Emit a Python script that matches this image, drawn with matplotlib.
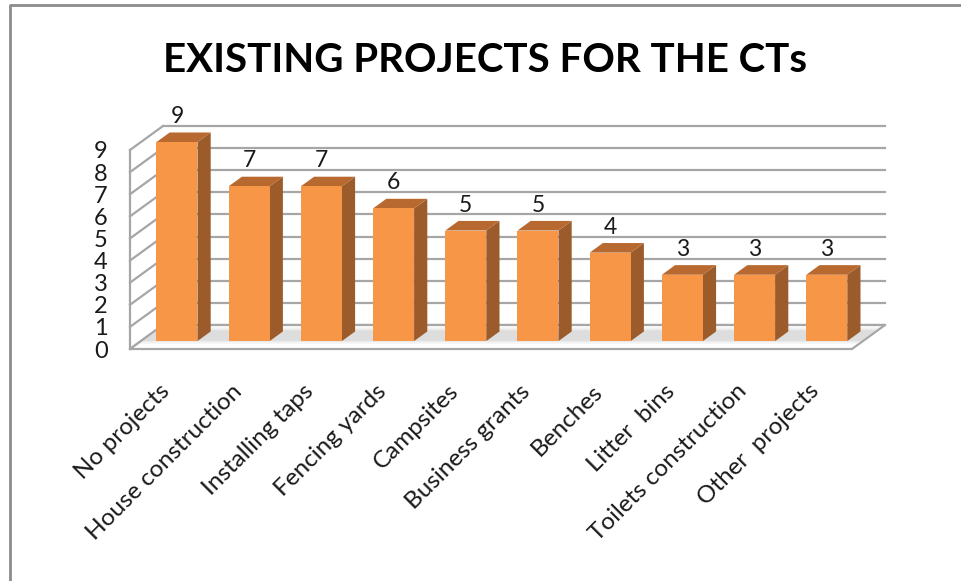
import matplotlib
matplotlib.use("Agg")
import matplotlib.pyplot as plt
from matplotlib.patches import Polygon
from matplotlib.lines import Line2D
from matplotlib.transforms import IdentityTransform
import numpy as np

categories = ["No projects", "House construction", "Installing taps", "Fencing yards",
              "Campsites", "Business grants", "Benches", "Litter  bins",
              "Toilets construction", "Other  projects"]
values = [9, 7, 7, 6, 5, 5, 4, 3, 3, 3]
y_ticks = list(range(0, 10))
title = "EXISTING PROJECTS FOR THE CTs"

FONT = ["Lato", "DejaVu Sans"]
plt.rcParams["font.family"] = FONT

W, H = 961, 581
fig = plt.figure(figsize=(W / 100, H / 100), dpi=100)
fig.patch.set_facecolor("white")

# front plane of the 3-D box, in pixels from the top-left corner
X0, Y0, PW, PH = 130, 349, 722, 199
ax = fig.add_axes([X0 / W, 1 - Y0 / H, PW / W, PH / H])
ax.set_xlim(0, len(categories))
ax.set_ylim(0, max(y_ticks))
ax.patch.set_visible(False)
for s in ax.spines.values():
    s.set_visible(False)

# oblique depth: full depth shifts right and up by these pixels
DX, DY = 33, 24


def proj(x, v, z):
    px, py = ax.transData.transform((x, v))
    return (px + z * DX, py + z * DY)


GRID = "#a6a6a6"
ident = IdentityTransform()


def seg(p, q, **kw):
    ax.add_line(Line2D([p[0], q[0]], [p[1], q[1]], transform=ident,
                       clip_on=False, **kw))


n = len(categories)
top = max(y_ticks)

# gridlines on the back wall and the left side wall
for t in y_ticks:
    seg(proj(0, t, 1), proj(n, t, 1), color=GRID, lw=1.6, zorder=1)
    seg(proj(0, t, 0), proj(0, t, 1), color=GRID, lw=1.6, zorder=1)
seg(proj(0, 0, 0), proj(0, top, 0), color=GRID, lw=1.6, zorder=1)

# floor
floor = [proj(0, 0, 0), proj(n, 0, 0), proj(n, 0, 1), proj(0, 0, 1)]
ax.add_patch(Polygon(floor, closed=True, transform=ident, facecolor="white",
                     edgecolor=GRID, lw=1.6, clip_on=False, zorder=1.5))

# soft shadow band on the floor
for (za, zb, a) in [(0.2, 0.92, 0.07), (0.28, 0.85, 0.10), (0.34, 0.78, 0.13)]:
    band = [proj(0.03, 0, za), proj(n - 0.03, 0, za),
            proj(n - 0.03, 0, zb), proj(0.03, 0, zb)]
    ax.add_patch(Polygon(band, closed=True, transform=ident, facecolor="#8a8a8a",
                         edgecolor="none", alpha=a, clip_on=False, zorder=1.6))

# bars
FRONT, SIDE, TOP = "#f79646", "#9c5b2a", "#b8692f"
bw = 0.568
zf, zb = 0.33, 0.73
for i, v in enumerate(values):
    xl, xr = i + 0.5 - bw / 2, i + 0.5 + bw / 2
    front = [proj(xl, 0, zf), proj(xr, 0, zf), proj(xr, v, zf), proj(xl, v, zf)]
    side = [proj(xr, 0, zf), proj(xr, 0, zb), proj(xr, v, zb), proj(xr, v, zf)]
    topf = [proj(xl, v, zf), proj(xr, v, zf), proj(xr, v, zb), proj(xl, v, zb)]
    for pts, c in [(side, SIDE), (topf, TOP), (front, FRONT)]:
        ax.add_patch(Polygon(pts, closed=True, transform=ident, facecolor=c,
                             edgecolor="none", clip_on=False, zorder=3))
    lx, ly = proj(i + 0.5, v, zf)
    ax.text(lx, ly + 19, str(v), transform=ident, ha="center", va="baseline",
            fontsize=16.5, color="#1a1a1a", zorder=4)

# axis labels
ax.set_yticks(y_ticks)
ax.set_yticklabels([str(t) for t in y_ticks], fontsize=17, color="#1a1a1a")
ax.tick_params(axis="y", length=0, pad=16)
ax.set_xticks(np.arange(n) + 0.5)
ax.set_xticklabels(categories, rotation=45, ha="right", va="center",
                   rotation_mode="anchor", fontsize=17.5, color="#1a1a1a")
ax.tick_params(axis="x", length=0, pad=28)

fig.text(485 / W, 1 - 72 / H, title, ha="center", va="baseline",
         fontsize=29, fontweight="bold", color="black")

# chart frame (left and top edges)
fig.add_artist(Line2D([9.5 / W, 9.5 / W, 1], [0, 1 - 5 / H, 1 - 5 / H],
                      transform=fig.transFigure, color="#8c8c8c", lw=2))

fig.savefig("out.png", dpi=100, facecolor="white")
